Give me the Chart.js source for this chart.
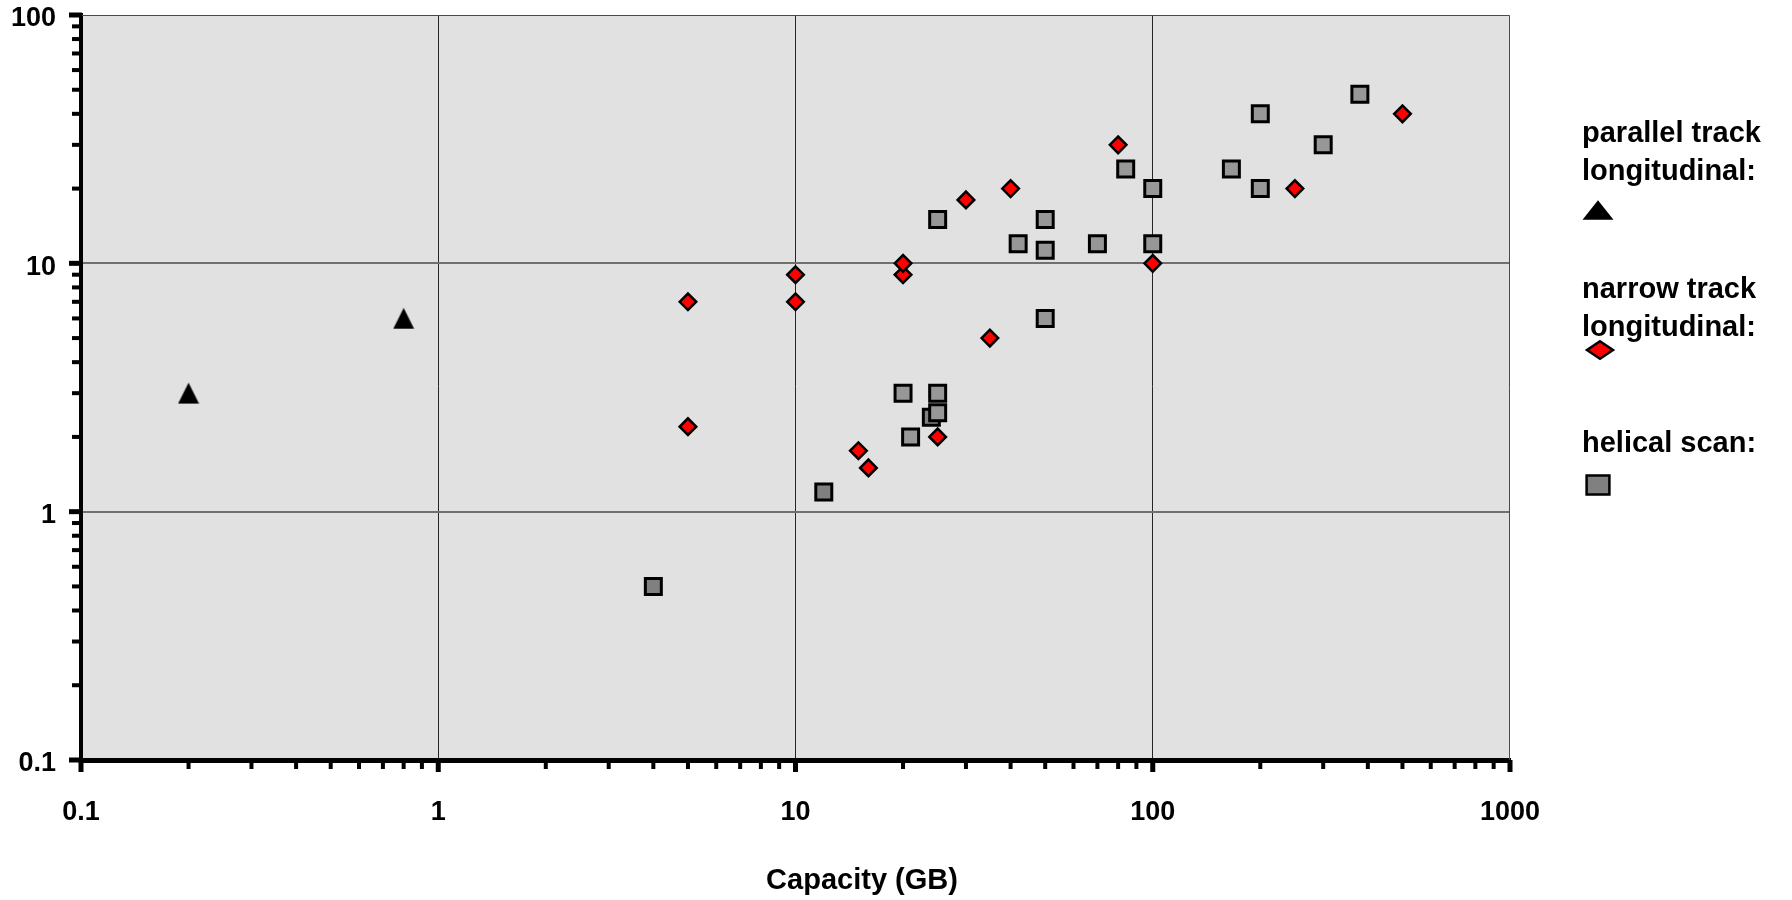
<!DOCTYPE html>
<html>
<head>
<meta charset="utf-8">
<title>Tape technologies: capacity vs. rate</title>
<script src="https://cdn.jsdelivr.net/npm/chart.js@4/dist/chart.umd.min.js"></script>
<style>
  html, body { margin: 0; padding: 0; background: #ffffff; }
  canvas { display: block; }
</style>
</head>
<body>
<canvas id="chart" width="1792" height="900"></canvas>
<script>
// ---- data -------------------------------------------------------------
const parallelCapacity = [0.2, 0.8];
const parallelRate     = [3, 6];

const narrowCapacity = [5, 5, 10, 10, 15, 16, 20, 20, 25, 30, 35, 40, 80, 100, 250, 500];
const narrowRate     = [7, 2.2, 9, 7, 1.76, 1.5, 9, 10, 2, 18, 5, 20, 30, 10, 20, 40];

const helicalCapacity = [4, 12, 20, 21, 24, 25, 25, 25, 42, 50, 50, 50, 70, 84, 100, 100, 166, 200, 200, 300, 380];
const helicalRate     = [0.5, 1.2, 3, 2, 2.4, 3, 2.5, 15, 12, 15, 11.3, 6, 12, 24, 20, 12, 24, 40, 20, 30, 48];

const seriesNames = [
  ['parallel track', 'longitudinal:'],
  ['narrow track', 'longitudinal:'],
  ['helical scan:']
];

const xTickLabels = ['0.1', '1', '10', '100', '1000'];
const yTickLabels = ['0.1', '1', '10', '100'];
const xAxisTitle  = 'Capacity (GB)';

// ---- styling ----------------------------------------------------------
const FONT = "'Liberation Sans', Arial, Helvetica, sans-serif";
const PLOT_BG = '#e1e1e1';
const helicalFill = ['#808080', '#808080', '#979797', '#979797', '#808080', '#979797', '#979797',
  '#979797', '#979797', '#979797', '#979797', '#979797', '#979797', '#979797', '#979797',
  '#979797', '#979797', '#979797', '#979797', '#979797', '#979797'];

Chart.defaults.font.family = FONT;

const toPoints = (xs, ys) => xs.map((x, i) => ({ x, y: ys[i] }));

function decadeIndex(labels, v) {
  return labels.findIndex(l => Math.abs(Math.log10(parseFloat(l)) - Math.log10(v)) < 1e-6);
}
const isEdge = (labels, v) => {
  const i = decadeIndex(labels, v);
  return i === 0 || i === labels.length - 1;
};

// ticks at 1..9 x 10^n between the first and last decade label
function logTicks(labels) {
  const lo = Math.round(Math.log10(parseFloat(labels[0])));
  const hi = Math.round(Math.log10(parseFloat(labels[labels.length - 1])));
  const out = [];
  for (let e = lo; e < hi; e++) {
    for (let m = 1; m <= 9; m++) out.push({ value: +(m * Math.pow(10, e)).toPrecision(6) });
  }
  out.push({ value: Math.pow(10, hi) });
  return out;
}

// filled triangle sprite, centred on its bounding box
function triangleSprite(size, color) {
  const c = document.createElement('canvas');
  c.width = size; c.height = size;
  const g = c.getContext('2d');
  g.fillStyle = color;
  g.beginPath();
  g.moveTo(size / 2, 0.5);
  g.lineTo(size - 0.5, size - 0.5);
  g.lineTo(0.5, size - 0.5);
  g.closePath();
  g.fill();
  return c;
}

// ---- plot background, frame, tick marks, axis title and legend --------
const decorations = {
  id: 'decorations',
  beforeDraw(chart) {
    const { ctx, chartArea: a } = chart;
    ctx.save();
    ctx.fillStyle = PLOT_BG;
    ctx.fillRect(a.left, a.top, a.right - a.left, a.bottom - a.top);
    ctx.restore();
  },
  beforeDatasetsDraw(chart) {
    const { ctx, chartArea: a } = chart;
    ctx.save();
    ctx.strokeStyle = '#4a4a4a';
    ctx.lineWidth = 1;
    ctx.beginPath();
    ctx.moveTo(a.left, a.top + 0.5);
    ctx.lineTo(a.right - 0.5, a.top + 0.5);
    ctx.lineTo(a.right - 0.5, a.bottom);
    ctx.stroke();
    ctx.restore();
  },
  afterDraw(chart) {
    const { ctx, chartArea: a } = chart;
    const xs = chart.scales.x, ys = chart.scales.y;
    ctx.save();
    ctx.fillStyle = '#000';
    xs.ticks.forEach(t => {
      const px = xs.getPixelForValue(t.value);
      const major = decadeIndex(xTickLabels, t.value) >= 0;
      const len = major ? 12 : 9, w = major ? 5 : 4;
      ctx.fillRect(px - w / 2, a.bottom, w, len);
    });
    ys.ticks.forEach(t => {
      const py = ys.getPixelForValue(t.value);
      const major = decadeIndex(yTickLabels, t.value) >= 0;
      const len = major ? 12 : 9, h = major ? 5 : 4;
      ctx.fillRect(a.left - len, py - h / 2, len + 1, h);
    });

    // axis title
    ctx.font = `bold 29px ${FONT}`;
    ctx.textAlign = 'center';
    ctx.textBaseline = 'middle';
    ctx.fillText(xAxisTitle, 862, 881);

    // legend: text lines with the marker underneath
    const legendX = 1582;
    const legendSlots = [
      { base: 142,   cx: 1598, cy: 210 },
      { base: 298,   cx: 1600, cy: 350 },
      { base: 452,   cx: 1598, cy: 485 }
    ];
    ctx.textAlign = 'left';
    ctx.textBaseline = 'alphabetic';
    seriesNames.forEach((lines, i) => {
      const s = legendSlots[i];
      ctx.fillStyle = '#000';
      lines.forEach((ln, k) => ctx.fillText(ln, legendX, s.base + k * 38));
      const ds = chart.data.datasets[i];
      ctx.beginPath();
      if (i === 0) {
        const w = 31, h = 19.5;
        ctx.moveTo(s.cx, s.cy - h / 2);
        ctx.lineTo(s.cx + w / 2, s.cy + h / 2);
        ctx.lineTo(s.cx - w / 2, s.cy + h / 2);
        ctx.closePath();
        ctx.fillStyle = '#000';
        ctx.fill();
      } else if (i === 1) {
        const hw = 13, hh = 8.7;
        ctx.moveTo(s.cx, s.cy - hh);
        ctx.lineTo(s.cx + hw, s.cy);
        ctx.lineTo(s.cx, s.cy + hh);
        ctx.lineTo(s.cx - hw, s.cy);
        ctx.closePath();
        ctx.fillStyle = ds.pointBackgroundColor;
        ctx.fill();
        ctx.lineWidth = 2.5;
        ctx.strokeStyle = ds.pointBorderColor;
        ctx.stroke();
      } else {
        const w = 22.8, h = 18.8;
        ctx.rect(s.cx - w / 2, s.cy - h / 2, w, h);
        ctx.fillStyle = '#808080';
        ctx.fill();
        ctx.lineWidth = 2.5;
        ctx.strokeStyle = ds.pointBorderColor;
        ctx.stroke();
      }
    });
    ctx.restore();
  }
};

const tickFont = { family: FONT, size: 27, weight: 'bold' };

new Chart(document.getElementById('chart'), {
  type: 'scatter',
  data: {
    datasets: [
      {
        label: seriesNames[0].join(' '),
        data: toPoints(parallelCapacity, parallelRate),
        pointStyle: triangleSprite(22, '#000000'),
        pointRadius: 11,
        pointBackgroundColor: '#000000',
        pointBorderColor: '#000000',
        pointBorderWidth: 0
      },
      {
        label: seriesNames[1].join(' '),
        data: toPoints(narrowCapacity, narrowRate),
        pointStyle: 'rectRot',
        pointRadius: 8.3,
        pointBackgroundColor: '#ff0000',
        pointBorderColor: '#000000',
        pointBorderWidth: 2.5
      },
      {
        label: seriesNames[2].join(' '),
        data: toPoints(helicalCapacity, helicalRate),
        pointStyle: 'rect',
        pointRadius: 11.3,
        pointBackgroundColor: helicalFill,
        pointBorderColor: '#000000',
        pointBorderWidth: 3
      }
    ]
  },
  options: {
    responsive: false,
    animation: false,
    events: [],
    layout: { padding: { left: 0, top: 15, right: 282, bottom: 0 } },
    plugins: { legend: { display: false }, tooltip: { enabled: false } },
    scales: {
      x: {
        type: 'logarithmic',
        position: 'bottom',
        min: parseFloat(xTickLabels[0]),
        max: parseFloat(xTickLabels[xTickLabels.length - 1]),
        afterBuildTicks: s => { s.ticks = logTicks(xTickLabels); },
        afterFit: s => { s.height = 140; s.paddingLeft = 0; s.paddingRight = 0; },
        ticks: {
          autoSkip: false, maxRotation: 0, minRotation: 0, padding: 36,
          color: '#000', font: tickFont,
          callback: v => { const i = decadeIndex(xTickLabels, v); return i < 0 ? '' : xTickLabels[i]; }
        },
        grid: {
          drawTicks: false,
          lineWidth: 1,
          color: c => (c.tick && decadeIndex(xTickLabels, c.tick.value) >= 0 && !isEdge(xTickLabels, c.tick.value))
            ? '#262626' : 'rgba(0,0,0,0)'
        },
        border: { display: true, color: '#000', width: 5 }
      },
      y: {
        type: 'logarithmic',
        position: 'left',
        min: parseFloat(yTickLabels[0]),
        max: parseFloat(yTickLabels[yTickLabels.length - 1]),
        afterBuildTicks: s => { s.ticks = logTicks(yTickLabels); },
        afterFit: s => { s.width = 81; s.paddingTop = 0; s.paddingBottom = 0; },
        ticks: {
          autoSkip: false, padding: 25, labelOffset: 4,
          color: '#000', font: tickFont,
          callback: v => { const i = decadeIndex(yTickLabels, v); return i < 0 ? '' : yTickLabels[i]; }
        },
        grid: {
          drawTicks: false,
          lineWidth: 2,
          color: c => (c.tick && decadeIndex(yTickLabels, c.tick.value) >= 0 && !isEdge(yTickLabels, c.tick.value))
            ? '#707070' : 'rgba(0,0,0,0)'
        },
        border: { display: true, color: '#000', width: 4 }
      }
    }
  },
  plugins: [decorations]
});
</script>
</body>
</html>
